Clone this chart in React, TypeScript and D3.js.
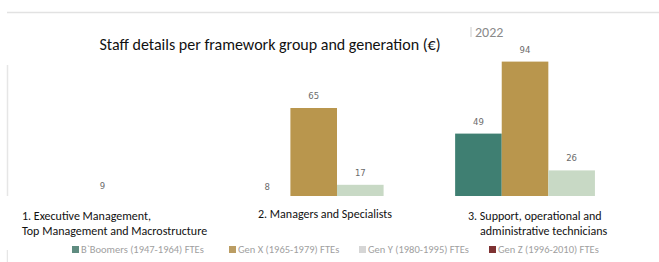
import React from "react";
import * as d3 from "d3";

const categories = ["g1", "g2", "g3"];
const categoryLabels: string[][] = [
  ["1. Executive Management,", "Top Management and Macrostructure"],
  ["2. Managers and Specialists"],
  ["3. Support, operational and", "administrative  technicians"],
];
const series = ["boomers", "genX", "genY", "genZ"];
const seriesLabels = [
  "B`Boomers (1947-1964) FTEs",
  "Gen X (1965-1979) FTEs",
  "Gen Y (1980-1995) FTEs",
  "Gen Z (1996-2010) FTEs",
];
const boomers = [0, 8, 49];
const genX = [9, 65, 94];
const genY = [0, 17, 26];
const genZ = [0, 0, 0];
const seriesValues = [boomers, genX, genY, genZ];
const colors = ["#3f7f72", "#b9964d", "#c8d9c5", "#7a2c2c"];
const legendColors = ["#5f8c80", "#bb9d63", "#d6d6d6", "#7e3232"];

const W = 659;
const H = 262;

export default function App() {
  const x0 = d3
    .scaleBand<string>()
    .domain(categories)
    .range([20, 654])
    .paddingInner(0.118)
    .paddingOuter(0.059);
  const x1 = d3.scaleBand<string>().domain(series).range([0, x0.bandwidth()]);
  const y = d3.scaleLinear().domain([0, 100]).range([212, 52]);

  const labelX = [22, 258, 468];
  const lx = d3.scaleOrdinal<string, number>().domain(categories).range(labelX);
  const legendX = d3.scaleOrdinal<string, number>().domain(series).range([72, 229, 359, 489]);
  const font = "Carlito, Calibri, 'Liberation Sans Narrow', Lato, sans-serif";

  return (
    <svg
      width={W}
      height={H}
      style={{ position: "absolute", left: 0, top: 0, background: "#fff" }}
    >
      <rect width={W} height={H} fill="#fff" />
      <line x1={7} x2={W} y1={12.5} y2={12.5} stroke="#e2e2e2" strokeWidth={1.5} />
      <line x1={7.5} x2={7.5} y1={65} y2={196} stroke="#e6e6e6" strokeWidth={1.5} />
      <line x1={7.5} x2={7.5} y1={250} y2={262} stroke="#e6e6e6" strokeWidth={1.5} />
      <text x={475} y={37} fontFamily={font} fontSize={14} fill="#8a8a8a">
        2022
      </text>
      <line x1={471} x2={471} y1={27} y2={37} stroke="#cccccc" strokeWidth={1} />
      {categories.map((c, ci) => (
        <g key={c} transform={`translate(${x0(c)},0)`}>
          {series.map((s, si) => {
            const v = seriesValues[si][ci];
            const bx = x1(s)!;
            const bw = x1.bandwidth();
            return (
              <g key={s}>
                <rect x={bx} y={y(v)} width={bw} height={y(0) - y(v)} fill={colors[si]} />
                <text
                  x={bx + bw / 2}
                  y={y(v) - 9}
                  textAnchor="middle"
                  fontFamily="'DejaVu Sans', sans-serif"
                  fontSize={8.5}
                  fill="#6b6b6b"
                >
                  {v}
                </text>
              </g>
            );
          })}
        </g>
      ))}
      <rect x={8} y={196} width={W - 8} height={66} fill="#fff" />
      <text x={270} y={50} textAnchor="middle" fontFamily={font} fontSize={16} fill="#111">
        Staff details per framework group and generation (€)
      </text>
      {categories.map((c, ci) =>
        categoryLabels[ci].map((line, li) => (
          <text
            key={c + li}
            x={ci === 2 && li === 1 ? lx(c) + 12 : lx(c)}
            y={ci === 1 ? 218 : 220 + li * 15}
            fontFamily={font}
            fontSize={12}
            fill="#111"
          >
            {line}
          </text>
        ))
      )}
      {series.map((s, si) => (
        <g key={s} transform={`translate(${legendX(s)},0)`}>
          <rect x={0} y={246} width={7} height={7} fill={legendColors[si]} />
          <text x={9} y={253} fontFamily={font} fontSize={10.5} fill="#a0a0a0">
            {seriesLabels[si]}
          </text>
        </g>
      ))}
    </svg>
  );
}
